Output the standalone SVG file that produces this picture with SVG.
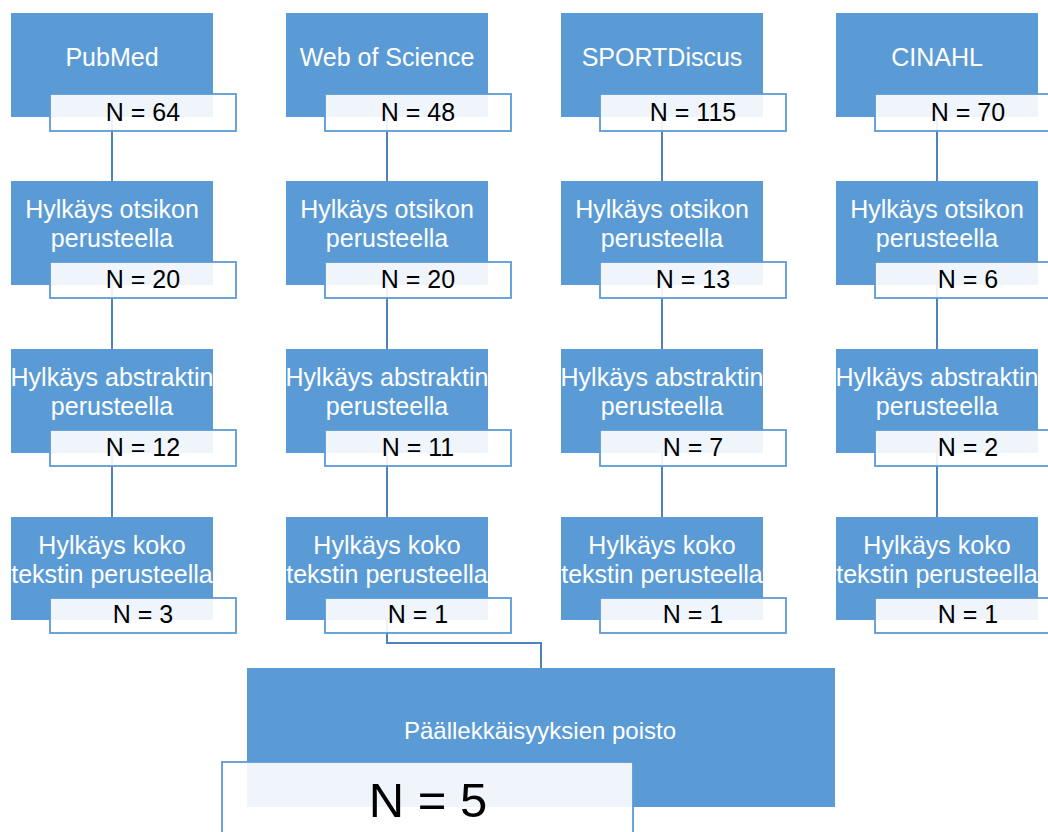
<svg xmlns="http://www.w3.org/2000/svg" width="1048" height="832" viewBox="0 0 1048 832">
<style>
.b{fill:#5b9bd5}
.l{fill:#ffffff;fill-opacity:0.9;stroke:#5b9bd5;stroke-width:1.8}
.t{font-family:"Liberation Sans",Arial,sans-serif;font-size:25px;fill:#ffffff;text-anchor:middle}
.n{font-family:"Liberation Sans",Arial,sans-serif;font-size:25px;fill:#000000;text-anchor:middle}
.c{fill:none;stroke:#4f81bd;stroke-width:2}
</style>
<rect width="1048" height="832" fill="#ffffff"/>
<g id="connectors">
<path class="c" d="M112 117V181M112 285V349M112 453V517"/>
<path class="c" d="M387 117V181M387 285V349M387 453V517"/>
<path class="c" d="M662 117V181M662 285V349M662 453V517"/>
<path class="c" d="M937 117V181M937 285V349M937 453V517"/>
<path class="c" d="M387 620V643H541V668"/>
</g>
<g id="pubmed"><rect class="b" x="11" y="13" width="202" height="104"/><rect class="l" x="50" y="94" width="186" height="37"/><text class="t" x="112" y="66">PubMed</text><text class="n" x="143" y="121">N = 64</text></g>
<g id="wos"><rect class="b" x="286" y="13" width="202" height="104"/><rect class="l" x="325" y="94" width="186" height="37"/><text class="t" x="387" y="66">Web of Science</text><text class="n" x="418" y="121">N = 48</text></g>
<g id="sportdiscus"><rect class="b" x="561" y="13" width="202" height="104"/><rect class="l" x="600" y="94" width="186" height="37"/><text class="t" x="662" y="66">SPORTDiscus</text><text class="n" x="693" y="121">N = 115</text></g>
<g id="cinahl"><rect class="b" x="836" y="13" width="202" height="104"/><rect class="l" x="875" y="94" width="186" height="37"/><text class="t" x="937" y="66">CINAHL</text><text class="n" x="968" y="121">N = 70</text></g>

<g id="otsikko1"><rect class="b" x="11" y="181" width="202" height="104"/><rect class="l" x="50" y="262" width="186" height="36"/><text class="t" x="112" y="218">Hylkäys otsikon</text><text class="t" x="112" y="247">perusteella</text><text class="n" x="143" y="288">N = 20</text></g>
<g id="otsikko2"><rect class="b" x="286" y="181" width="202" height="104"/><rect class="l" x="325" y="262" width="186" height="36"/><text class="t" x="387" y="218">Hylkäys otsikon</text><text class="t" x="387" y="247">perusteella</text><text class="n" x="418" y="288">N = 20</text></g>
<g id="otsikko3"><rect class="b" x="561" y="181" width="202" height="104"/><rect class="l" x="600" y="262" width="186" height="36"/><text class="t" x="662" y="218">Hylkäys otsikon</text><text class="t" x="662" y="247">perusteella</text><text class="n" x="693" y="288">N = 13</text></g>
<g id="otsikko4"><rect class="b" x="836" y="181" width="202" height="104"/><rect class="l" x="875" y="262" width="186" height="36"/><text class="t" x="937" y="218">Hylkäys otsikon</text><text class="t" x="937" y="247">perusteella</text><text class="n" x="968" y="288">N = 6</text></g>

<g id="abstrakti1"><rect class="b" x="11" y="349" width="202" height="104"/><rect class="l" x="50" y="430" width="186" height="36"/><text class="t" x="112" y="386">Hylkäys abstraktin</text><text class="t" x="112" y="415">perusteella</text><text class="n" x="143" y="456">N = 12</text></g>
<g id="abstrakti2"><rect class="b" x="286" y="349" width="202" height="104"/><rect class="l" x="325" y="430" width="186" height="36"/><text class="t" x="387" y="386">Hylkäys abstraktin</text><text class="t" x="387" y="415">perusteella</text><text class="n" x="418" y="456">N = 11</text></g>
<g id="abstrakti3"><rect class="b" x="561" y="349" width="202" height="104"/><rect class="l" x="600" y="430" width="186" height="36"/><text class="t" x="662" y="386">Hylkäys abstraktin</text><text class="t" x="662" y="415">perusteella</text><text class="n" x="693" y="456">N = 7</text></g>
<g id="abstrakti4"><rect class="b" x="836" y="349" width="202" height="104"/><rect class="l" x="875" y="430" width="186" height="36"/><text class="t" x="937" y="386">Hylkäys abstraktin</text><text class="t" x="937" y="415">perusteella</text><text class="n" x="968" y="456">N = 2</text></g>

<g id="koko1"><rect class="b" x="11" y="517" width="202" height="103"/><rect class="l" x="50" y="598" width="186" height="35"/><text class="t" x="112" y="554">Hylkäys koko</text><text class="t" x="112" y="583">tekstin perusteella</text><text class="n" x="143" y="623">N = 3</text></g>
<g id="koko2"><rect class="b" x="286" y="517" width="202" height="103"/><rect class="l" x="325" y="598" width="186" height="35"/><text class="t" x="387" y="554">Hylkäys koko</text><text class="t" x="387" y="583">tekstin perusteella</text><text class="n" x="418" y="623">N = 1</text></g>
<g id="koko3"><rect class="b" x="561" y="517" width="202" height="103"/><rect class="l" x="600" y="598" width="186" height="35"/><text class="t" x="662" y="554">Hylkäys koko</text><text class="t" x="662" y="583">tekstin perusteella</text><text class="n" x="693" y="623">N = 1</text></g>
<g id="koko4"><rect class="b" x="836" y="517" width="202" height="103"/><rect class="l" x="875" y="598" width="186" height="35"/><text class="t" x="937" y="554">Hylkäys koko</text><text class="t" x="937" y="583">tekstin perusteella</text><text class="n" x="968" y="623">N = 1</text></g>

<g id="poisto"><rect class="b" x="247" y="668" width="588" height="139"/><rect class="l" x="222" y="762" width="411" height="90"/><text class="t" x="540" y="739" style="font-size:24px">Päällekkäisyyksien poisto</text><text class="n" x="428" y="817" style="font-size:49px">N = 5</text></g>
</svg>
